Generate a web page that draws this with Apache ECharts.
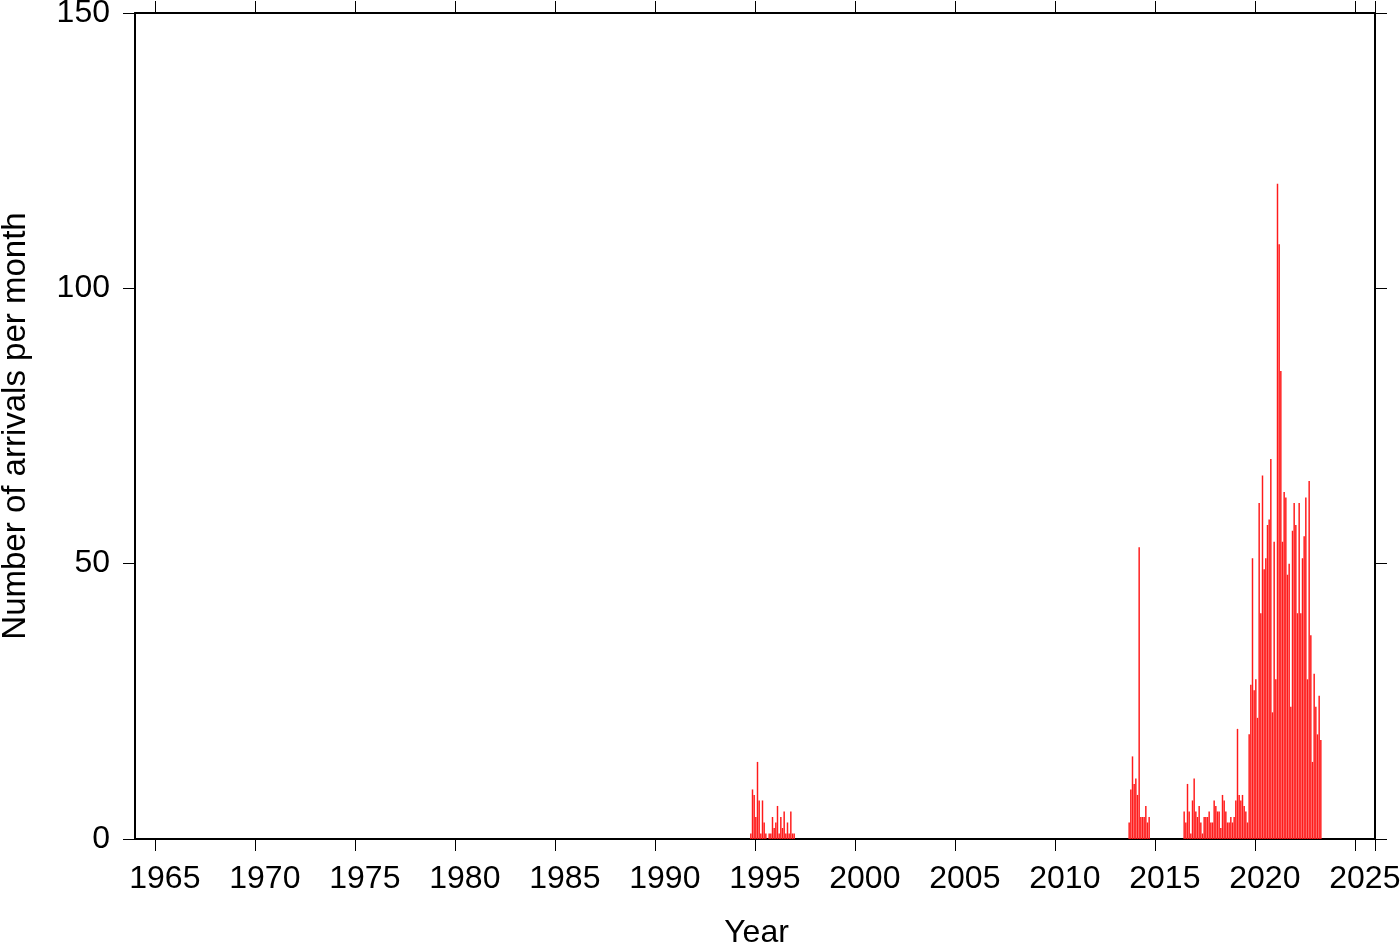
<!DOCTYPE html>
<html>
<head>
<meta charset="utf-8">
<script src="https://cdn.jsdelivr.net/npm/echarts@6/dist/echarts.min.js"></script>
<style>
html,body{margin:0;padding:0;background:#fff;}
#chart{width:1400px;height:942px;}
</style>
</head>
<body>
<div id="chart"></div>
<script>
// Monthly arrival counts, grouped into clusters: [startYear, startMonth(1-12)]
const cluster1Start = [1994, 10];
const cluster1Values = [1, 9, 8, 4, 14, 7, 1, 7, 3, 1, 0, 1, 1, 4, 2, 3, 6, 1, 4, 2, 5, 1, 3, 1, 5, 1, 1];
const cluster2Start = [2013, 9];
const cluster2Values = [3, 9, 15, 10, 11, 8, 53, 4, 4, 4, 6, 3, 4];
const cluster3Start = [2016, 6];
const cluster3Values = [5, 3, 10, 5, 1, 7, 11, 5, 4, 6, 3, 1, 4, 4, 4, 5, 3, 3, 7, 6,
  5, 5, 2, 8, 7, 5, 3, 3, 4, 3, 4, 7, 20, 8, 7, 8, 6, 5, 3, 19,
  28, 51, 27, 29, 22, 61, 41, 66, 49, 51, 57, 58, 69, 23, 54, 29, 119, 108, 85,
  54, 63, 62, 48, 50, 24, 56, 61, 57, 41, 61, 41, 51, 55, 62, 29, 65, 37, 14, 30, 24, 19, 26, 18];

const firstYear = 1964;
const lastYear = 2025;
const yTicks = [0, 50, 100, 150];
const xLabelStep = 5; // years between labelled ticks
const xTitle = 'Year';
const yTitle = 'Number of arrivals per month';

// month categories
const months = [];
for (let y = firstYear; y <= lastYear; y++) {
  for (let m = 1; m <= 12; m++) months.push(y + '-' + String(m).padStart(2, '0'));
}
const values = months.map(() => null);
function place(start, vals) {
  const idx0 = (start[0] - firstYear) * 12 + (start[1] - 1);
  vals.forEach((v, i) => { values[idx0 + i] = v; });
}
place(cluster1Start, cluster1Values);
place(cluster2Start, cluster2Values);
place(cluster3Start, cluster3Values);

const isMajor = (index) => {
  const yr = firstYear + Math.floor(index / 12);
  return index % 12 === 0 && yr % xLabelStep === 0;
};

const FONT = "'Liberation Sans', Arial, Helvetica, sans-serif";
const chart = echarts.init(document.getElementById('chart'), null, {renderer: 'canvas'});
const axisLineStyle = {color: '#000', width: 2};
const tickStyle = {color: '#000', width: 1};

chart.setOption({
  animation: false,
  backgroundColor: '#fff',
  grid: {left: 135, right: 25, top: 13, bottom: 103, containLabel: false, outerBoundsMode: 'none'},
  xAxis: [{
    type: 'category',
    data: months,
    position: 'bottom',
    boundaryGap: true,
    axisLine: {show: true, onZero: false, lineStyle: axisLineStyle},
    axisTick: {show: true, interval: (i) => isMajor(i), length: 12, lineStyle: tickStyle, inside: false},
    axisLabel: {
      show: true, interval: (i) => isMajor(i), margin: 24,
      padding: [0, 0, 0, 18],
      formatter: (v) => v.slice(0, 4),
      fontFamily: FONT, fontSize: 32, color: '#000'
    },
    splitLine: {show: false},
    name: xTitle, nameLocation: 'middle', nameGap: 78,
    nameTextStyle: {fontFamily: FONT, fontSize: 32, color: '#000', padding: [0, 0, 0, 3]}
  }, {
    type: 'category',
    data: months,
    position: 'top',
    boundaryGap: true,
    axisLine: {show: true, onZero: false, lineStyle: axisLineStyle},
    axisTick: {show: true, interval: (i) => isMajor(i), length: 12, lineStyle: tickStyle},
    axisLabel: {show: false},
    splitLine: {show: false}
  }],
  yAxis: [{
    type: 'value', min: yTicks[0], max: yTicks[yTicks.length - 1], interval: yTicks[1] - yTicks[0],
    position: 'left',
    axisLine: {show: true, onZero: false, lineStyle: axisLineStyle},
    axisTick: {show: true, length: 12, lineStyle: tickStyle},
    axisLabel: {margin: 25, fontFamily: FONT, fontSize: 32, color: '#000'},
    splitLine: {show: false},
    name: yTitle, nameLocation: 'middle', nameGap: 103,
    nameTextStyle: {fontFamily: FONT, fontSize: 33, color: '#000'}
  }, {
    type: 'value', min: yTicks[0], max: yTicks[yTicks.length - 1], interval: yTicks[1] - yTicks[0],
    position: 'right',
    axisLine: {show: true, onZero: false, lineStyle: axisLineStyle},
    axisTick: {show: true, length: 12, lineStyle: tickStyle},
    axisLabel: {show: false},
    splitLine: {show: false}
  }],
  series: [{
    type: 'bar',
    xAxisIndex: 0,
    yAxisIndex: 0,
    data: values,
    barCategoryGap: '12%',
    itemStyle: {color: '#ff1a1a'},
    emphasis: {disabled: true}
  }]
});
</script>
</body>
</html>
